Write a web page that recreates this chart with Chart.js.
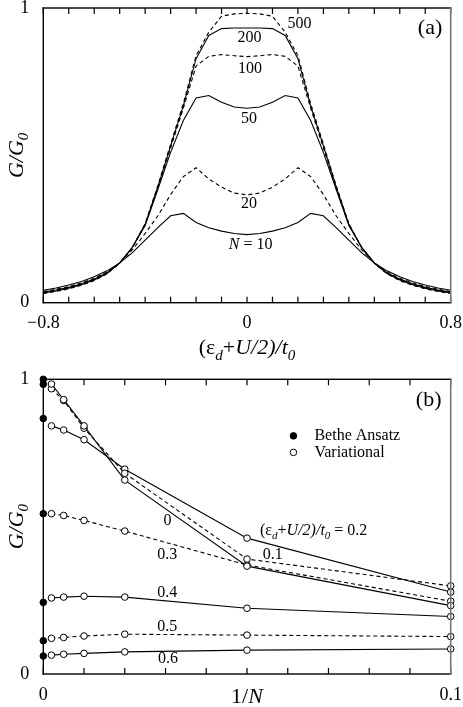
<!DOCTYPE html>
<html>
<head>
<meta charset="utf-8">
<script src="https://cdn.jsdelivr.net/npm/chart.js@4.4.0/dist/chart.umd.min.js"></script>
<style>
  html, body { margin: 0; padding: 0; background: #fff; }
  #wrap { position: relative; width: 463px; height: 707px; }
  canvas { position: absolute; left: 0; }
  #graficoA { top: 0; }
  #graficoB { top: 360px; }
</style>
</head>
<body>
<div id="wrap">
  <canvas id="graficoA" width="463" height="360"></canvas>
  <canvas id="graficoB" width="463" height="347"></canvas>
</div>
<script>
// (a) condutancia vs (eps_d+U/2)/t0, uma curva por N
const eps = [-0.8,-0.75,-0.7,-0.65,-0.6,-0.55,-0.5,-0.45,-0.4,-0.35,-0.3,-0.25,-0.2,-0.15,-0.1,-0.05,0,
             0.05,0.1,0.15,0.2,0.25,0.3,0.35,0.4,0.45,0.5,0.55,0.6,0.65,0.7,0.75,0.8];
const gN10  = [0.042,0.050,0.060,0.072,0.088,0.108,0.135,0.170,0.212,0.255,0.295,0.303,0.272,0.254,0.243,0.235,0.231,
               0.235,0.243,0.254,0.272,0.303,0.295,0.255,0.212,0.170,0.135,0.108,0.088,0.072,0.060,0.050,0.042];
const gN20  = [0.038,0.046,0.055,0.067,0.083,0.104,0.135,0.180,0.235,0.295,0.367,0.428,0.458,0.420,0.392,0.372,0.366,
               0.372,0.392,0.420,0.458,0.428,0.367,0.295,0.235,0.180,0.135,0.104,0.083,0.067,0.055,0.046,0.038];
const gN50  = [0.036,0.043,0.052,0.064,0.080,0.102,0.135,0.188,0.262,0.385,0.510,0.618,0.695,0.703,0.680,0.664,0.660,
               0.664,0.680,0.703,0.695,0.618,0.510,0.385,0.262,0.188,0.135,0.102,0.080,0.064,0.052,0.043,0.036];
const gN100 = [0.034,0.041,0.050,0.062,0.078,0.100,0.134,0.187,0.265,0.390,0.525,0.660,0.803,0.836,0.842,0.838,0.835,
               0.838,0.842,0.836,0.803,0.660,0.525,0.390,0.265,0.187,0.134,0.100,0.078,0.062,0.050,0.041,0.034];
const gN200 = [0.033,0.040,0.049,0.061,0.077,0.099,0.134,0.188,0.266,0.394,0.532,0.668,0.828,0.907,0.930,0.932,0.932,
               0.932,0.930,0.907,0.828,0.668,0.532,0.394,0.266,0.188,0.134,0.099,0.077,0.061,0.049,0.040,0.033];
const gN500 = [0.031,0.038,0.047,0.059,0.075,0.098,0.134,0.188,0.268,0.398,0.538,0.676,0.838,0.918,0.972,0.980,0.982,
               0.980,0.972,0.918,0.838,0.676,0.538,0.398,0.268,0.188,0.134,0.098,0.075,0.059,0.047,0.038,0.031];
const marcasA  = [-0.8,-0.7,-0.6,-0.5,-0.4,-0.3,-0.2,-0.1,0,0.1,0.2,0.3,0.4,0.5,0.6,0.7,0.8];
const xLabValA = [-0.8, 0, 0.8];
const xLabTxtA = ['\u22120.8', '0', '0.8'];

// (b) condutancia vs 1/N
const invN   = [0.002, 0.005, 0.01, 0.02, 0.05, 0.1];
const betheX = [0, 0, 0, 0, 0, 0, 0];
const betheG = [1.0, 0.983, 0.867, 0.544, 0.243, 0.113, 0.061];
const var00  = [0.984, 0.931, 0.842, 0.658, 0.366, 0.232];
const var01  = [0.968, 0.928, 0.834, 0.681, 0.390, 0.299];
const var02  = [0.842, 0.828, 0.795, 0.695, 0.461, 0.278];
const var03  = [0.544, 0.538, 0.521, 0.485, 0.370, 0.247];
const var04  = [0.258, 0.261, 0.264, 0.261, 0.223, 0.195];
const var05  = [0.121, 0.124, 0.129, 0.135, 0.132, 0.127];
const var06  = [0.064, 0.067, 0.070, 0.075, 0.081, 0.085];
const marcasB  = [0,0.01,0.02,0.03,0.04,0.05,0.06,0.07,0.08,0.09,0.1];
const xLabValB = [0, 0.1];
const xLabTxtB = ['0', '0.1'];
const yLabVal  = [0, 1];
const yLabTxt  = ['0', '1'];

const SERIF = '"Liberation Serif", "Times New Roman", serif';

function pares(xs, ys) {
    return xs.map((x, i) => ({ x: x, y: ys[i] }));
}

function fonte(p, size) {
    const s = p[2] ? Math.round(size * 0.68) : size;
    return (p[1] ? 'italic ' : '') + s + 'px ' + SERIF;
}

// texto com italico / subscrito: partes = [texto, italico, subscrito]
function textoRico(ctx, partes, x, y, size, align) {
    const larg = partes.map(p => { ctx.font = fonte(p, size); return ctx.measureText(p[0]).width; });
    const total = larg.reduce((a, b) => a + b, 0);
    let cx = align === 'left' ? x : (align === 'right' ? x - total : x - total / 2);
    ctx.textAlign = 'left';
    ctx.textBaseline = 'middle';
    partes.forEach((p, i) => {
        ctx.font = fonte(p, size);
        ctx.fillText(p[0], cx, y + (p[2] ? size * 0.32 : 0));
        cx += larg[i];
    });
}

// moldura + marcas internas
function criarBorda(marcas) {
    return {
        id: 'borda',
        afterDraw(chart) {
            const ctx = chart.ctx, a = chart.chartArea, xs = chart.scales.x;
            ctx.save();
            ctx.globalAlpha = 1;
            ctx.globalCompositeOperation = 'source-over';
            ctx.setLineDash([]);
            ctx.fillStyle = 'rgb(0,0,0)';
            ctx.fillRect(a.left - 0.7, a.top - 0.7, a.right - a.left + 1.4, 1.4);
            ctx.fillRect(a.left - 0.7, a.bottom - 0.7, a.right - a.left + 1.4, 1.4);
            ctx.fillRect(a.left - 0.7, a.top - 0.7, 1.4, a.bottom - a.top + 1.4);
            marcas.forEach(v => {
                const px = xs.getPixelForValue(v);
                ctx.fillRect(px - 0.6, a.bottom - 6, 1.2, 6);
                ctx.fillRect(px - 0.6, a.top, 1.2, 6);
            });
            ctx.fillStyle = 'rgb(120,120,120)';
            ctx.fillRect(a.right - 0.8, a.top - 0.7, 1.6, a.bottom - a.top + 1.4);
            ctx.restore();
        }
    };
}

// titulos, rotulos das curvas e legenda
function criarTextos(cfg) {
    return {
        id: 'textos',
        afterDraw(chart) {
            const ctx = chart.ctx, a = chart.chartArea, xs = chart.scales.x, ys = chart.scales.y;
            ctx.save();
            ctx.fillStyle = '#000';
            ctx.save();
            ctx.translate(17, (a.top + a.bottom) / 2);
            ctx.rotate(-Math.PI / 2);
            textoRico(ctx, [['G/G', true, false], ['0', true, true]], 0, 0, 22, 'center');
            ctx.restore();
            textoRico(ctx, cfg.xTitle, (a.left + a.right) / 2, a.bottom + cfg.xTitleDy, 22, 'center');
            cfg.rotulos.forEach(r => {
                textoRico(ctx, r.partes, xs.getPixelForValue(r.x), ys.getPixelForValue(r.y),
                          r.size || 16, r.align || 'center');
            });
            cfg.legenda.forEach(l => {
                const px = xs.getPixelForValue(l.x), py = ys.getPixelForValue(l.y);
                ctx.beginPath();
                ctx.arc(px, py, 3.3, 0, Math.PI * 2);
                ctx.fillStyle = l.cheio ? '#000' : '#fff';
                ctx.fill();
                ctx.strokeStyle = '#000';
                ctx.lineWidth = 1;
                ctx.stroke();
                ctx.fillStyle = '#000';
                textoRico(ctx, [[l.texto, false, false]], px + 21, py, 16, 'left');
            });
            ctx.restore();
        }
    };
}

function escalas(xMin, xMax, xVals, xTxts, altX) {
    return {
        x: {
            type: 'linear', min: xMin, max: xMax,
            grid: { display: false },
            border: { display: false },
            ticks: {
                autoSkip: false, maxRotation: 0, padding: 2, color: '#000',
                font: { family: SERIF, size: 18 },
                callback: (v, i) => xTxts[i]
            },
            afterBuildTicks: s => { s.ticks = xVals.map(v => ({ value: v })); },
            afterFit: s => { s.height = altX; s.paddingLeft = 0; s.paddingRight = 0; }
        },
        y: {
            type: 'linear', min: 0, max: 1,
            grid: { display: false },
            border: { display: false },
            ticks: {
                padding: 6, color: '#000',
                font: { family: SERIF, size: 18 },
                callback: (v, i) => yLabTxt[i]
            },
            afterBuildTicks: s => { s.ticks = yLabVal.map(v => ({ value: v })); },
            afterFit: s => { s.width = 43.3; s.paddingTop = 0; s.paddingBottom = 0; }
        }
    };
}

function linha(dados, tracejada) {
    return {
        data: dados, borderColor: '#000', borderWidth: 1.1,
        borderDash: tracejada ? [4, 3] : [], pointRadius: 0, tension: 0, clip: false
    };
}

function linhaPontos(dados, tracejada) {
    return {
        data: dados, borderColor: '#000', borderWidth: 1.1,
        borderDash: tracejada ? [4, 3] : [],
        pointRadius: 3.3, pointBackgroundColor: '#fff', pointBorderColor: '#000', pointBorderWidth: 1,
        tension: 0, clip: false
    };
}

function montarGraficoA() {
    const ctx = document.getElementById('graficoA').getContext('2d');
    new Chart(ctx, {
        type: 'line',
        data: {
            datasets: [
                linha(pares(eps, gN10), false),
                linha(pares(eps, gN20), true),
                linha(pares(eps, gN50), false),
                linha(pares(eps, gN100), true),
                linha(pares(eps, gN200), false),
                linha(pares(eps, gN500), true)
            ]
        },
        options: {
            responsive: false, animation: false, events: [],
            layout: { padding: { top: 8, right: 12.3, left: 0, bottom: 0 } },
            scales: escalas(-0.8, 0.8, xLabValA, xLabTxtA, 57.3),
            plugins: { legend: { display: false }, tooltip: { enabled: false } }
        },
        plugins: [
            criarBorda(marcasA),
            criarTextos({
                xTitleDy: 46,
                xTitle: [['(\u03b5', false, false], ['d', true, true], ['+', false, false],
                         ['U/2)/t', true, false], ['0', true, true]],
                rotulos: [
                    { x: 0.206, y: 0.946, partes: [['500', false, false]] },
                    { x: 0.010, y: 0.898, partes: [['200', false, false]] },
                    { x: 0.012, y: 0.795, partes: [['100', false, false]] },
                    { x: 0.008, y: 0.623, partes: [['50', false, false]] },
                    { x: 0.008, y: 0.335, partes: [['20', false, false]] },
                    { x: 0.014, y: 0.196, partes: [['N', true, false], [' = 10', false, false]] },
                    { x: 0.719, y: 0.930, size: 22, partes: [['(a)', false, false]] }
                ],
                legenda: []
            })
        ]
    });
}

function montarGraficoB() {
    const ctx = document.getElementById('graficoB').getContext('2d');
    new Chart(ctx, {
        type: 'line',
        data: {
            datasets: [
                {
                    data: pares(betheX, betheG), showLine: false,
                    pointRadius: 3.3, pointBackgroundColor: '#000', pointBorderColor: '#000',
                    pointBorderWidth: 1, clip: false
                },
                linhaPontos(pares(invN, var00), false),
                linhaPontos(pares(invN, var01), true),
                linhaPontos(pares(invN, var02), false),
                linhaPontos(pares(invN, var03), true),
                linhaPontos(pares(invN, var04), false),
                linhaPontos(pares(invN, var05), true),
                linhaPontos(pares(invN, var06), false)
            ]
        },
        options: {
            responsive: false, animation: false, events: [],
            layout: { padding: { top: 19.3, right: 12.3, left: 0, bottom: 0 } },
            scales: escalas(0, 0.1, xLabValB, xLabTxtB, 33),
            plugins: { legend: { display: false }, tooltip: { enabled: false } }
        },
        plugins: [
            criarBorda(marcasB),
            criarTextos({
                xTitleDy: 23,
                xTitle: [['1/', false, false], ['N', true, false]],
                rotulos: [
                    { x: 0.0305, y: 0.519, partes: [['0', false, false]] },
                    { x: 0.0304, y: 0.404, partes: [['0.3', false, false]] },
                    { x: 0.0304, y: 0.275, partes: [['0.4', false, false]] },
                    { x: 0.0304, y: 0.159, partes: [['0.5', false, false]] },
                    { x: 0.0306, y: 0.051, partes: [['0.6', false, false]] },
                    { x: 0.0563, y: 0.404, partes: [['0.1', false, false]] },
                    { x: 0.0532, y: 0.485, align: 'left',
                      partes: [['(\u03b5', false, false], ['d', true, true], ['+', false, false],
                               ['U/2)/t', true, false], ['0', true, true], [' = 0.2', false, false]] },
                    { x: 0.0946, y: 0.928, size: 22, partes: [['(b)', false, false]] }
                ],
                legenda: [
                    { x: 0.0614, y: 0.808, cheio: true,  texto: 'Bethe Ansatz' },
                    { x: 0.0614, y: 0.752, cheio: false, texto: 'Variational' }
                ]
            })
        ]
    });
}

montarGraficoA();
montarGraficoB();
</script>
</body>
</html>
